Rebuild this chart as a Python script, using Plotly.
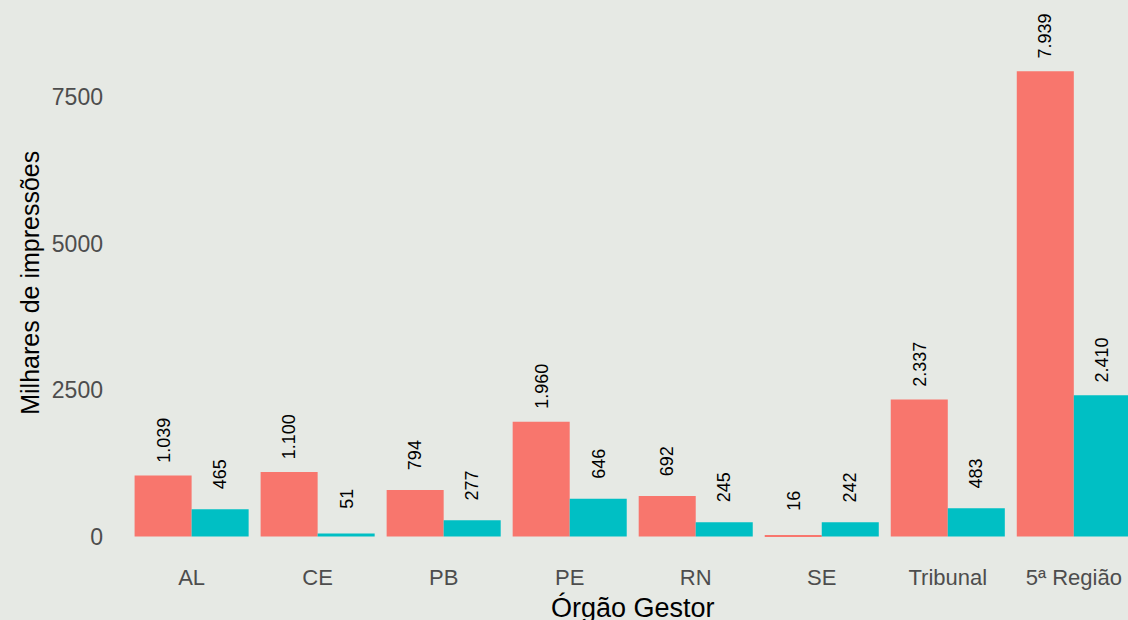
import plotly.graph_objects as go

# dados do grafico
categorias = ['AL', 'CE', 'PB', 'PE', 'RN', 'SE', 'Tribunal', '5ª Região']
serie_a = [1039, 1100, 794, 1960, 692, 16, 2337, 7939]
serie_b = [465, 51, 277, 646, 245, 242, 483, 2410]
y_ticks = [0, 2500, 5000, 7500]

cor_a = '#F8766D'
cor_b = '#00BFC4'
fundo = '#e6e9e4'


def fmt(v):
    # separador de milhar no padrao brasileiro
    return f'{v:,}'.replace(',', '.')


fig = go.Figure()
fig.add_trace(go.Bar(x=categorias, y=serie_a, marker=dict(color=cor_a, line=dict(width=0)),
                     hoverinfo='x+y'))
fig.add_trace(go.Bar(x=categorias, y=serie_b, marker=dict(color=cor_b, line=dict(width=0)),
                     hoverinfo='x+y'))

# rotulos verticais acima das barras
annotations = []
for serie, shift in ((serie_a, -28.5), (serie_b, 28.5)):
    for cat, v in zip(categorias, serie):
        annotations.append(dict(
            x=cat, y=v, xref='x', yref='y', text=fmt(v), showarrow=False,
            textangle=-90, xanchor='center', yanchor='middle',
            xshift=shift, yshift=35,
            font=dict(family='Liberation Sans, Arial', size=18, color='black'),
        ))

# titulos dos eixos
annotations.append(dict(
    x=0.511, y=-0.084, xref='paper', yref='paper', text='Órgão Gestor', showarrow=False,
    xanchor='center', yanchor='middle', borderpad=0,
    font=dict(family='Liberation Sans, Arial', size=27, color='black'),
))
annotations.append(dict(
    x=-0.085, y=0.495, xref='paper', yref='paper', text='Milhares de impressões', showarrow=False,
    textangle=-90, xanchor='center', yanchor='middle',
    font=dict(family='Liberation Sans, Arial', size=25, color='black'),
))

fig.update_layout(
    width=1128,
    height=620,
    margin=dict(l=116, r=0, t=0, b=60),
    paper_bgcolor=fundo,
    plot_bgcolor=fundo,
    barmode='group',
    bargap=0.095,
    bargroupgap=0,
    showlegend=False,
    annotations=annotations,
    font=dict(family='Liberation Sans, Arial', color='#4d4d4d'),
    xaxis=dict(
        range=[-0.6, 7.43],
        showgrid=False, zeroline=False, showline=False,
        tickfont=dict(size=22, color='#4d4d4d'),
        ticklabelstandoff=2,
    ),
    yaxis=dict(
        range=[-401, 9155],
        tickvals=y_ticks,
        ticktext=[str(t) for t in y_ticks],
        showgrid=False, zeroline=False, showline=False,
        tickfont=dict(size=23, color='#4d4d4d'),
        ticklabelstandoff=12,
    ),
)

# tira a margem padrao da pagina
fig.write_html('out.html',
               config={'displayModeBar': False},
               post_script="document.body.style.margin='0';"
                           "document.body.style.background='" + fundo + "';")
